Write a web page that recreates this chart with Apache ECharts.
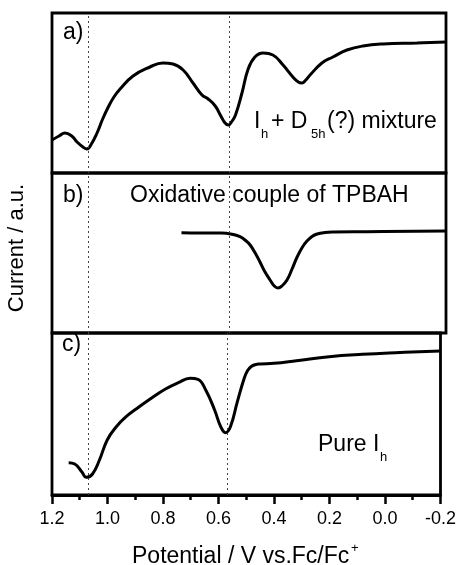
<!DOCTYPE html>
<html>
<head>
<meta charset="utf-8">
<script src="https://cdn.jsdelivr.net/npm/echarts@6/dist/echarts.min.js"></script>
<style>html,body{margin:0;padding:0;background:#fff}#c{width:459px;height:565px}</style>
</head>
<body>
<div id="c"></div>
<script>
// Panel a: Ih + D5h(?) mixture
var potA = [1.2, 1.175, 1.154, 1.13, 1.111, 1.09, 1.076, 1.06, 1.04, 1.02, 1.0, 0.98, 0.958, 0.912, 0.852, 0.806, 0.770, 0.734, 0.699, 0.667, 0.645, 0.62, 0.60, 0.585, 0.573, 0.560, 0.548, 0.525, 0.503, 0.479, 0.450, 0.415, 0.379, 0.344, 0.325, 0.312, 0.298, 0.283, 0.241, 0.202, 0.152, 0.095, 0.024, -0.097, -0.2];
var curA = [33, 37, 40, 37, 31, 26, 24, 29, 40, 54, 66, 76, 84, 97, 106, 110, 109, 103, 90, 78, 74, 67, 57, 50, 48, 52, 58, 80, 104, 116, 120, 118, 108, 96, 91, 90, 93, 98, 110, 116, 123, 127, 129, 130, 131];
// Panel b: oxidative couple of TPBAH
var potB = [0.74, 0.674, 0.60, 0.56, 0.532, 0.51, 0.496, 0.478, 0.461, 0.443, 0.425, 0.41, 0.397, 0.383, 0.365, 0.347, 0.329, 0.31, 0.294, 0.276, 0.258, 0.23, 0.201, 0.081, -0.2];
var curB = [100.3, 100, 100, 98.8, 96.3, 92, 88, 80, 71, 61, 53, 47, 45, 47, 53, 64, 76, 86, 92, 96.5, 99, 100.5, 101, 101.3, 102];
// Panel c: pure Ih
var potC = [1.14, 1.118, 1.093, 1.076, 1.054, 1.029, 1.001, 0.969, 0.933, 0.887, 0.841, 0.791, 0.745, 0.702, 0.674, 0.646, 0.614, 0.592, 0.575, 0.557, 0.532, 0.507, 0.495, 0.482, 0.468, 0.450, 0.400, 0.319, 0.201, 0.081, -0.037, -0.2];
var curC = [32.3, 31, 23.3, 17.7, 21, 35, 55, 68, 78.3, 88, 97, 106, 112.3, 116.7, 115.7, 105, 85, 68.3, 62.3, 68.3, 93.3, 117, 124.5, 128.5, 130.3, 131, 131.7, 134.3, 138.3, 140.7, 142.3, 144];
// reference (dotted) potentials
var refLines = [1.075, 0.573];
var xTicks = [1.2, 1.0, 0.8, 0.6, 0.4, 0.2, 0.0, -0.2];

function pairs(xs, ys) { return xs.map(function (x, i) { return [x, ys[i]]; }); }

var chart = echarts.init(document.getElementById('c'), null, { renderer: 'canvas' });
var FONT = 'Liberation Sans, Arial, sans-serif';
var grids = [
  { left: 52, right: 13, top: 13, height: 160 },
  { left: 52, right: 13, top: 173, height: 160 },
  { left: 52, right: 13, top: 333, height: 162 }
].map(function (g) { return Object.assign({ show: true, borderColor: '#000', borderWidth: 2.8, backgroundColor: 'transparent' }, g); });

function xAxis(i, showAxis) {
  return {
    gridIndex: i, type: 'value', min: xTicks[xTicks.length - 1], max: xTicks[0], interval: 0.2, inverse: true,
    axisLine: { show: showAxis, onZero: false, lineStyle: { color: '#000', width: 2.8 } },
    axisTick: { show: showAxis, inside: false, length: 9, lineStyle: { color: '#000', width: 2.5 } },
    minorTick: { show: showAxis, splitNumber: 2, length: 5, lineStyle: { color: '#000', width: 2.5 } },
    axisLabel: { show: showAxis, color: '#000', fontSize: 18, fontFamily: FONT, margin: 15, showMinLabel: true, showMaxLabel: true,
      formatter: function (v) { return (Math.abs(v) < 1e-9 ? 0 : v).toFixed(1); } },
    splitLine: { show: false }, minorSplitLine: { show: false }
  };
}
function yAxis(i, max) {
  return { gridIndex: i, type: 'value', min: 0, max: max, show: false, splitLine: { show: false } };
}
function series(i, xs, ys) {
  return {
    type: 'line', xAxisIndex: i, yAxisIndex: i, data: pairs(xs, ys), showSymbol: false, smooth: 0.45,
    lineStyle: { color: '#000', width: 3 }, silent: true, animation: false,
    markLine: { silent: true, symbol: 'none', label: { show: false },
      lineStyle: { color: '#444', type: [2, 3], width: 1 },
      data: refLines.map(function (v) { return { xAxis: v }; }) }
  };
}
function txt(x, y, text, size, extra) {
  return Object.assign({ type: 'text', x: x, y: y, silent: true,
    style: { text: text, fill: '#000', font: size + 'px ' + FONT, verticalAlign: 'middle', align: 'left' } }, extra || {});
}

chart.setOption({
  animation: false,
  backgroundColor: '#fff',
  grid: grids,
  xAxis: [xAxis(0, false), xAxis(1, false), xAxis(2, true)],
  yAxis: [yAxis(0, 160), yAxis(1, 160), yAxis(2, 162)],
  series: [series(0, potA, curA), series(1, potB, curB), series(2, potC, curC)],
  graphic: [
    txt(63, 33, 'a)', 23),
    txt(63, 196, 'b)', 23),
    txt(62, 345, 'c)', 23),
    txt(130, 196, 'Oxidative couple of TPBAH', 23),
    txt(254, 122, 'I', 23),
    txt(261, 134, 'h', 13),
    txt(271, 122, '+ D', 23),
    txt(311, 134, '5h', 13),
    txt(327, 122, '(?) mixture', 23),
    txt(318, 445, 'Pure I', 23),
    txt(380, 457, 'h', 13),
    txt(132, 557, 'Potential / V vs.Fc/Fc', 23),
    txt(351, 548, '+', 13),
    { type: 'text', x: 17, y: 248, rotation: Math.PI / 2, silent: true,
      style: { text: 'Current / a.u.', fill: '#000', font: '22px ' + FONT, align: 'center', verticalAlign: 'middle' } }
  ]
});
</script>
</body>
</html>
